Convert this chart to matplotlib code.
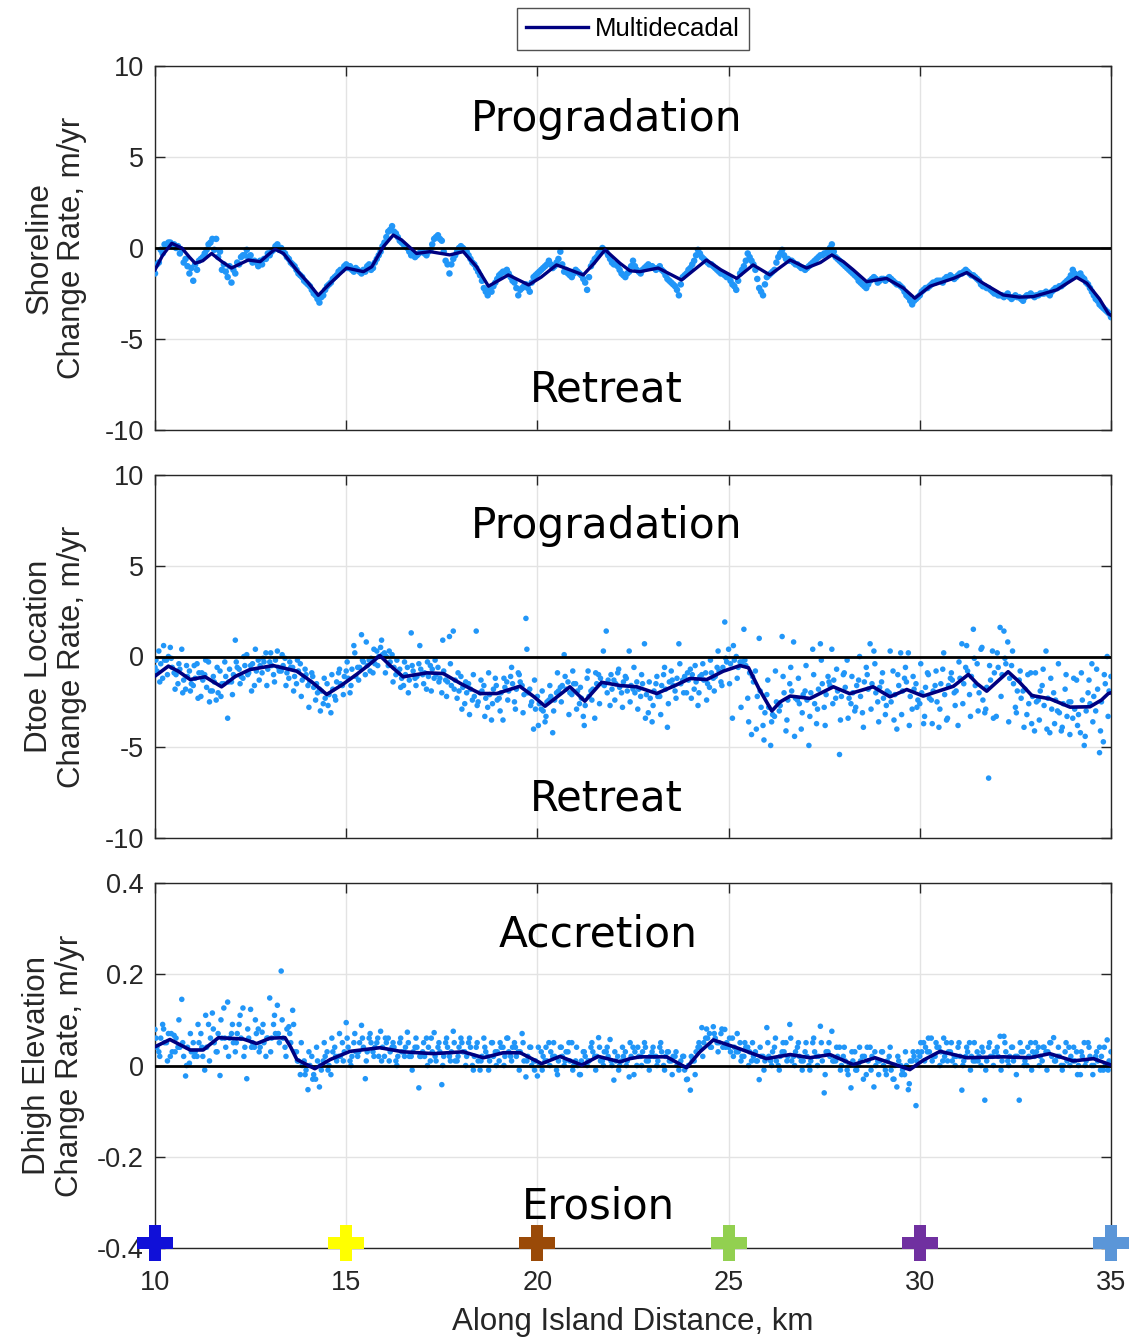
import numpy as np
import matplotlib
matplotlib.use("Agg")
import matplotlib.pyplot as plt
import matplotlib.transforms as mtransforms

# ---------------- data ----------------
# Smoothed multidecadal lines (knots)
shore_line_km = [10.0, 10.2, 10.44, 10.70, 10.9, 11.05, 11.25, 11.48, 11.75, 12.0, 12.44, 12.75, 13.0, 13.14, 13.36,
                 13.70, 14.0, 14.27, 14.58, 15.01, 15.45, 15.67, 15.97, 16.23, 16.45, 16.84, 17.19, 17.71, 18.06,
                 18.41, 18.72, 19.24, 19.77, 20.1, 20.50, 20.85, 21.20, 21.5, 21.77, 22.16, 22.42, 22.68, 23.16,
                 23.77, 24.1, 24.42, 24.8, 25.21, 25.64, 26.08, 26.61, 27.04, 27.4, 27.70, 28.0, 28.26, 28.61,
                 29.13, 29.57, 29.87, 30.27, 30.88, 31.23, 31.66, 32.18, 32.6, 32.97, 33.58, 34.10, 34.37, 34.7,
                 34.93, 35.0]
shore_line_val = [-1.2, -0.4, 0.26, 0.0, -0.5, -0.84, -0.7, -0.3, -0.75, -1.1, -0.66, -0.75, -0.3, -0.07, -0.3,
                  -1.2, -1.9, -2.6, -1.94, -1.1, -1.3, -1.03, 0.07, 0.71, 0.44, -0.3, -0.2, -0.38, -0.2,
                  -1.03, -2.1, -1.48, -2.03, -1.6, -0.93, -1.2, -1.48, -0.8, -0.1, -0.84, -1.25, -1.3, -1.1,
                  -1.76, -1.2, -0.66, -1.2, -1.67, -0.93, -1.48, -0.66, -1.1, -0.8, -0.38, -0.75, -1.2, -1.85,
                  -1.67, -2.2, -2.76, -2.1, -1.67, -1.35, -1.94, -2.58, -2.7, -2.67, -2.3, -1.61, -1.94, -2.8,
                  -3.6, -3.7]

dtoe_line_km = [10.0, 10.35, 10.6, 10.92, 11.31, 11.74, 12.1, 12.48, 13.09, 13.71, 14.1, 14.49, 14.9, 15.27,
                15.6, 15.88, 16.15, 16.49, 17.11, 17.54, 18.0, 18.50, 18.94, 19.54, 19.9, 20.20, 20.5, 20.85,
                21.24, 21.68, 22.16, 22.42, 22.60, 23.12, 23.6, 23.99, 24.43, 24.86, 25.30, 25.52, 25.8, 26.13,
                26.35, 26.61, 27.13, 27.74, 28.17, 28.78, 29.22, 29.66, 30.09, 30.88, 31.27, 31.5, 31.75, 32.31,
                32.6, 32.93, 33.40, 33.93, 34.45, 34.75, 34.93, 35.0]
dtoe_line_val = [-1.08, -0.53, -0.8, -1.27, -1.12, -1.67, -1.1, -0.72, -0.5, -0.81, -1.4, -2.09, -1.55, -0.99,
                 -0.45, 0.05, -0.5, -1.12, -0.9, -0.94, -1.5, -2.04, -2.04, -1.64, -2.2, -2.74, -2.25, -1.67,
                 -2.46, -1.42, -1.6, -1.64, -1.67, -2.04, -1.6, -1.21, -1.27, -0.81, -0.5, -0.62, -1.8, -3.0,
                 -2.5, -2.18, -2.31, -1.67, -2.05, -1.67, -2.22, -1.82, -2.18, -1.64, -0.99, -1.5, -1.91, -0.84,
                 -1.4, -2.15, -2.33, -2.79, -2.77, -2.4, -2.04, -2.0]

dhigh_line_km = [10.0, 10.39, 10.92, 11.26, 11.66, 12.31, 12.66, 13.01, 13.40, 13.55, 13.71, 14.18, 14.58, 15.10,
                 15.88, 16.49, 17.28, 18.06, 18.59, 19.11, 19.55, 20.11, 20.59, 21.16, 21.59, 22.16, 22.42,
                 22.68, 23.38, 23.90, 24.25, 24.60, 25.21, 25.99, 26.61, 27.13, 27.65, 28.26, 28.83, 29.74, 30.1,
                 30.53, 31.23, 32.18, 32.88, 33.40, 34.01, 34.54, 34.97]
dhigh_line_val = [0.041, 0.057, 0.034, 0.034, 0.061, 0.058, 0.048, 0.06, 0.061, 0.04, 0.013, -0.007, 0.013, 0.031,
                  0.039, 0.03, 0.026, 0.03, 0.017, 0.028, 0.028, 0.004, 0.02, 0.001, 0.02, 0.008, 0.015,
                  0.019, 0.019, -0.005, 0.03, 0.056, 0.039, 0.015, 0.024, 0.017, 0.024, 0.002, 0.017, -0.009, 0.012,
                  0.031, 0.017, 0.019, 0.017, 0.026, 0.01, 0.015, 0.002]

# Transect scatter: transects every 0.1 km from 10 to 35 km (set A),
# offset by 0.05 km (set B) and by 0.025 km (set C)
transect_start_km, transect_end_km, n_transects = 10.0, 35.0, 251

shore_pts = [
    -1.4, -0.8, -0.3, 0.1, 0.3, 0.2, 0.1, -0.1, -0.6, -1.4,
    -1.8, -1.2, -0.6, -0.3, 0.2, 0.5, 0.5, -0.2, -0.9, -1.6,
    -1.9, -1.4, -0.9, -0.4, -0.1, -0.4, -0.7, -1.0, -0.9, -0.6,
    -0.4, -0.1, 0.2, 0.0, -0.3, -0.6, -0.9, -1.2, -1.5, -1.8,
    -2.0, -2.3, -2.6, -3.0, -2.6, -2.1, -1.9, -1.6, -1.3, -1.2,
    -0.9, -1.0, -1.3, -1.2, -1.4, -1.3, -0.9, -1.1, -0.6, -0.2,
    0.3, 0.9, 1.2, 0.8, 0.4, 0.2, 0.0, -0.4, -0.5, -0.3,
    -0.2, -0.4, -0.1, 0.5, 0.7, 0.4, -0.7, -1.4, -0.6, -0.2,
    0.1, -0.1, -0.4, -0.8, -1.1, -1.5, -2.2, -2.6, -2.4, -1.9,
    -1.5, -1.3, -1.2, -1.6, -1.9, -2.6, -2.2, -2.0, -2.4, -1.6,
    -1.4, -1.2, -1.0, -0.7, -1.1, -0.8, -0.2, -1.3, -1.4, -1.6,
    -1.2, -1.4, -1.7, -2.3, -1.0, -0.6, -0.3, 0.0, -0.2, -0.6,
    -0.9, -1.0, -1.4, -1.6, -1.3, -0.7, -1.2, -1.4, -1.1, -0.9,
    -1.0, -1.2, -1.0, -1.3, -1.7, -1.9, -2.1, -2.6, -1.6, -1.4,
    -1.1, -0.7, -0.1, -0.5, -0.7, -0.9, -1.0, -1.2, -1.4, -1.5,
    -1.6, -2.0, -2.3, -1.4, -1.0, -0.3, -0.7, -1.2, -2.2, -2.6,
    -1.6, -1.4, -1.2, -0.5, -0.1, -0.6, -0.7, -0.8, -0.9, -1.1,
    -1.2, -1.0, -0.8, -0.6, -0.4, -0.3, -0.2, 0.2, -0.5, -0.7,
    -0.9, -1.1, -1.3, -1.5, -1.8, -2.0, -2.2, -1.8, -1.6, -1.9,
    -1.7, -1.8, -1.6, -1.8, -2.0, -2.1, -2.4, -2.7, -3.1, -2.8,
    -2.6, -2.3, -2.2, -2.0, -1.9, -1.8, -1.9, -1.6, -1.5, -1.7,
    -1.5, -1.4, -1.2, -1.4, -1.5, -1.7, -2.0, -2.1, -2.2, -2.4,
    -2.5, -2.6, -2.7, -2.5, -2.8, -2.6, -2.7, -2.9, -2.6, -2.5,
    -2.7, -2.6, -2.5, -2.4, -2.6, -2.3, -2.2, -2.1, -1.9, -1.7,
    -1.2, -1.5, -1.4, -1.7, -2.0, -2.4, -2.8, -3.1, -3.3, -3.5,
    -3.8]
shore_pts_b = [
    -0.9, -0.1, 0.2, 0.3, 0.1, 0.0, -0.3, -0.8, -1.0, -1.1,
    -0.9, -0.7, -0.5, -0.1, 0.3, -0.1, -0.5, -1.2, -1.3, -1.0,
    -1.2, -0.8, -0.5, -0.4, -0.6, -0.8, -0.8, -0.7, -0.6, -0.3,
    -0.2, 0.1, -0.1, -0.2, -0.5, -0.8, -1.0, -1.4, -1.6, -1.9,
    -2.1, -2.5, -2.8, -2.7, -2.3, -2.0, -1.7, -1.5, -1.2, -1.0,
    -1.1, -1.2, -1.1, -1.3, -1.2, -1.0, -1.2, -0.8, -0.4, 0.1,
    0.6, 1.0, 0.9, 0.6, 0.3, 0.1, -0.2, -0.3, -0.4, -0.2,
    -0.3, -0.2, 0.2, 0.6, 0.5, -0.2, -0.9, -0.9, -0.4, 0.0,
    0.0, -0.2, -0.6, -0.9, -1.3, -1.8, -2.4, -2.3, -2.1, -1.7,
    -1.4, -1.3, -1.4, -1.8, -2.2, -2.3, -2.1, -2.2, -1.9, -1.5,
    -1.3, -1.1, -0.9, -0.9, -1.0, -0.6, -0.9, -1.2, -1.5, -1.4,
    -1.3, -1.5, -1.9, -1.6, -0.8, -0.5, -0.2, -0.1, -0.4, -0.8,
    -0.9, -1.2, -1.5, -1.4, -1.0, -1.0, -1.3, -1.2, -1.0, -1.0,
    -1.1, -1.1, -1.2, -1.5, -1.8, -2.0, -2.3, -2.0, -1.5, -1.2,
    -0.9, -0.4, -0.3, -0.6, -0.8, -0.9, -1.1, -1.3, -1.4, -1.6,
    -1.8, -2.1, -1.8, -1.2, -0.7, -0.5, -0.9, -1.7, -2.4, -2.0,
    -1.5, -1.3, -0.8, -0.3, -0.4, -0.6, -0.7, -0.9, -1.0, -1.1,
    -1.1, -0.9, -0.7, -0.5, -0.4, -0.3, 0.0, -0.2, -0.6, -0.8,
    -1.0, -1.2, -1.4, -1.6, -1.9, -2.1, -2.0, -1.7, -1.7, -1.8,
    -1.7, -1.7, -1.7, -1.9, -2.0, -2.2, -2.6, -2.9, -2.9, -2.7,
    -2.4, -2.2, -2.1, -1.9, -1.8, -1.8, -1.7, -1.6, -1.6, -1.6,
    -1.4, -1.3, -1.3, -1.5, -1.6, -1.8, -2.1, -2.2, -2.3, -2.5,
    -2.6, -2.6, -2.6, -2.7, -2.7, -2.7, -2.8, -2.7, -2.6, -2.6,
    -2.6, -2.5, -2.5, -2.5, -2.4, -2.2, -2.1, -2.0, -1.8, -1.5,
    -1.4, -1.5, -1.6, -1.9, -2.2, -2.6, -2.9, -3.2, -3.4, -3.6]

dtoe_pts_a = [
    -0.6, 0.3, -1.2, -0.2, 0.5, -0.9, -1.5, 0.4, -1.8, -0.8,
    -1.6, -0.4, -2.2, -1.0, -0.3, -1.9, -2.4, -0.8, -1.5, -3.4,
    -1.4, 0.9, -0.7, -1.2, 0.1, -0.5, -1.6, -0.2, -0.9, 0.2,
    -0.3, -1.0, 0.3, -0.8, -0.1, -1.2, -0.6, -1.5, -0.4, -1.1,
    -1.6, -0.9, -2.4, -1.8, -2.6, -1.5, -3.1, -2.2, -0.9, -1.6,
    -0.8, -2.0, 0.6, -0.6, 1.2, -1.0, -0.2, -0.9, 0.3, 0.5,
    0.2, -0.5, 0.1, -1.0, -0.7, -1.6, -0.6, 1.3, -1.2, -0.4,
    -1.0, -1.8, -0.5, -1.2, -0.6, -2.0, -1.3, 1.1, 1.4, -2.3,
    -1.1, -2.6, -1.5, -2.4, 1.4, -2.0, -1.6, -2.8, -3.5, -1.2,
    -2.3, -3.5, -1.4, -1.1, -2.5, -0.9, -1.6, 2.1, -1.8, -4.0,
    -2.2, -2.9, -3.6, -2.4, -4.2, -2.0, -1.7, 0.1, -1.4, -2.1,
    -1.5, -2.6, -3.3, -1.2, -1.9, -3.4, -1.0, -1.5, 1.4, -2.7,
    -1.3, -0.9, -2.0, -1.1, 0.3, -1.8, -1.4, -2.2, 0.7, -3.1,
    -3.6, -1.5, -2.2, -1.0, -3.9, -0.8, -1.9, 0.7, -1.3, -2.0,
    -0.7, -1.8, -2.7, -1.0, -0.9, -1.7, -1.2, -0.6, -1.4, 1.9,
    0.4, -3.4, 0.0, -0.3, 1.5, -2.3, -4.3, -0.8, 1.0, -3.8,
    -2.1, -4.9, -3.3, -2.6, 1.1, -4.1, -1.5, 0.8, -2.4, -4.0,
    -1.9, -4.9, 0.4, -3.7, 0.7, -2.8, -1.1, 0.4, -2.3, -5.4,
    -1.0, -0.2, -2.6, -3.0, -1.3, -3.1, -0.6, 0.7, 0.3, -2.5,
    -1.4, -3.2, -2.0, -0.8, -4.0, 0.2, -1.2, 0.2, -2.9, -1.5,
    -2.6, -3.7, -0.9, -2.4, -1.6, -3.9, -0.7, -3.5, -1.2, -2.0,
    -3.8, 0.7, -0.6, -2.1, 1.5, -0.4, 0.4, -3.1, -6.7, 0.3,
    -3.3, 1.6, 1.4, 0.8, -0.5, -2.8, -1.3, -1.9, -3.2, -0.9,
    -4.1, -2.4, -1.6, 0.3, -4.2, -2.0, -3.0, -4.1, -1.8, -2.5,
    -3.4, -1.3, -4.2, -4.9, -2.0, -0.4, -3.0, -5.3, -4.7, 0.0,
    -1.1]
dtoe_pts_b = [
    -0.8, -0.4, -0.2, 0.0, -0.6, -1.0, -0.7, -1.3, -1.1, -1.5,
    -1.2, -0.9, -1.3, -1.7, -1.9, -1.4, -2.0, -1.5, -1.1, -0.7,
    -1.0, -0.6, -1.1, -0.5, -0.9, -0.4, -0.8, -0.5, -0.3, -0.7,
    -0.5, -0.2, -0.8, -0.5, -0.9, -0.6, -1.1, -0.8, -1.3, -1.0,
    -1.4, -1.7, -2.0, -1.9, -2.3, -2.1, -1.8, -1.4, -1.5, -1.1,
    -1.2, -0.7, -1.1, -0.6, -0.3, -0.5, -0.1, -0.4, 0.0, 0.1,
    0.0, -0.3, -0.6, -0.9, -1.2, -1.0, -1.3, -0.8, -1.1, -0.7,
    -0.9, -1.1, -0.7, -1.0, -1.2, -0.8, -1.4, -1.6, -1.3, -1.9,
    -1.7, -2.0, -1.8, -2.2, -2.5, -1.9, -2.3, -2.1, -1.8, -2.4,
    -2.0, -1.7, -1.9, -1.5, -1.8, -1.4, -2.1, -2.0, -2.5, -2.9,
    -2.6, -3.0, -2.5, -2.2, -2.4, -1.9, -1.6, -1.8, -2.0, -1.5,
    -1.9, -2.3, -2.7, -2.2, -1.8, -1.5, -1.2, -1.6, -1.3, -1.8,
    -1.5, -1.7, -1.4, -1.9, -1.6, -2.0, -1.8, -1.5, -2.1, -2.3,
    -1.9, -2.2, -1.6, -1.8, -1.4, -1.6, -1.2, -1.5, -1.1, -1.3,
    -1.0, -1.4, -1.1, -1.3, -1.5, -0.9, -1.1, -0.8, -0.6, -0.3,
    -0.4, -0.2, -0.6, -0.3, -0.5, -0.9, -1.4, -2.2, -2.8, -3.1,
    -2.8, -3.2, -2.5, -2.7, -2.0, -2.4, -1.9, -2.3, -2.6, -2.1,
    -2.4, -2.0, -2.6, -1.8, -1.5, -2.1, -1.6, -1.3, -1.9, -2.2,
    -1.7, -2.3, -2.0, -1.6, -2.2, -1.4, -1.8, -1.5, -2.0, -1.7,
    -2.3, -1.9, -2.5, -2.1, -1.6, -1.9, -1.4, -2.2, -1.8, -2.4,
    -2.0, -1.7, -2.3, -1.9, -2.5, -1.5, -2.1, -1.6, -1.3, -1.9,
    -1.2, -1.5, -0.8, -1.1, -1.6, -2.0, -2.4, -1.7, -1.3, -0.9,
    -0.6, -1.0, -0.4, -1.2, -1.5, -1.9, -2.3, -1.8, -2.6, -2.2,
    -2.5, -1.9, -2.7, -2.3, -2.9, -2.4, -3.1, -2.6, -3.3, -2.5,
    -2.9, -3.2, -2.4, -3.0, -2.6, -2.2, -1.8, -2.5, -1.5, -1.9]
dtoe_pts_c = [
    -0.2, -1.4, 0.6, -1.0, -0.1, -1.8, -0.4, -2.0, -0.5, -1.9,
    -0.5, -2.3, -0.9, -0.2, -2.5, -1.1, -0.6, -2.2, -0.3, -1.4,
    -2.1, -0.3, -1.5, 0.0, -1.0, -1.9, 0.4, -1.3, -0.1, -1.6,
    0.2, -1.4, -0.6, 0.1, -1.6, -0.3, -1.9, -0.2, -2.2, -0.7,
    -2.8, -1.1, -1.5, -3.0, -1.2, -2.7, -1.0, -2.4, -0.7, -2.1,
    -0.3, -1.6, 0.2, -1.3, -0.2, 0.8, -0.8, 0.4, -0.5, 0.9,
    -0.9, 0.3, -1.4, -0.2, -1.7, -0.3, -2.0, -0.5, -1.6, 0.6,
    -1.5, -0.3, -1.9, -0.2, -1.4, 0.9, -2.2, -0.4, -1.8, -0.9,
    -2.9, -1.4, -3.2, -1.0, -2.7, -1.3, -3.3, -0.9, -2.6, -1.6,
    -3.0, -1.2, -2.4, -0.6, -2.9, -1.0, -3.1, 0.4, -2.7, -1.3,
    -3.8, -1.9, -3.3, -1.6, -3.0, -0.9, -2.5, -1.1, -3.2, -0.8,
    -2.9, -1.7, -3.8, -0.8, -2.4, -0.9, -2.6, 0.3, -2.0, -1.0,
    -2.4, -0.7, -2.8, -1.2, -2.5, -0.6, -2.9, -1.0, -3.4, -1.4,
    -2.7, -1.1, -3.2, -0.6, -2.6, -1.3, -2.3, -0.4, -2.0, -0.9,
    -2.3, -0.5, -2.0, -0.4, -2.4, -0.2, -1.9, 0.3, -1.6, -0.1,
    -1.5, 0.6, -1.2, -2.8, -0.2, -3.6, -1.1, -4.0, -1.9, -4.6,
    -1.3, -3.6, -0.8, -3.0, -1.1, -3.5, -0.6, -4.4, -1.2, -3.1,
    -0.5, -3.3, -1.0, -2.9, -0.2, -3.8, -1.4, -2.6, -0.7, -3.5,
    -0.9, -3.4, -1.1, -2.8, 0.0, -3.9, -1.0, -2.9, -0.4, -3.6,
    -0.9, -2.7, 0.3, -3.5, -1.0, -3.2, -0.6, -3.8, -1.1, -2.8,
    -0.4, -3.3, -1.0, -3.7, -0.8, -2.9, 0.2, -3.4, -0.9, -2.7,
    -0.3, -2.6, 0.6, -3.3, -0.1, -3.0, 0.5, -2.9, -0.5, -3.4,
    0.2, -2.2, -0.1, -3.6, 0.3, -3.1, -0.8, -3.9, -1.0, -3.7,
    -0.9, -3.5, -0.7, -4.0, -1.2, -3.7, -0.4, -3.9, -1.0, -4.3,
    -1.2, -3.8, -0.9, -4.4, -1.3, -3.6, -0.7, -4.1, -1.0, -3.3]

dhigh_pts_a = [
    0.079, 0.03, 0.09, 0.05, 0.02, 0.066, 0.04, 0.145, -0.023, 0.005,
    0.05, 0.02, 0.07, -0.01, 0.09, 0.115, 0.03, -0.022, 0.126, 0.139,
    0.07, 0.03, 0.09, 0.126, -0.029, 0.123, 0.04, 0.08, 0.073, 0.02,
    0.148, 0.09, 0.132, 0.207, 0.04, 0.085, 0.121, 0.03, -0.02, 0.01,
    -0.053, 0.02, -0.03, -0.047, 0.01, 0.03, -0.02, 0.04, 0.02, 0.05,
    0.094, 0.01, 0.05, 0.02, 0.088, -0.029, 0.06, 0.03, 0.05, 0.075,
    0.02, 0.06, 0.04, 0.01, 0.05, 0.03, 0.073, 0.02, 0.04, -0.049,
    0.03, 0.06, 0.01, 0.072, 0.04, -0.042, 0.05, 0.02, 0.075, 0.01,
    0.06, 0.03, 0.05, 0.0, 0.04, -0.01, 0.06, 0.02, 0.05, 0.03,
    0.01, 0.04, 0.06, 0.02, 0.05, 0.03, 0.07, -0.025, 0.04, 0.01,
    -0.023, 0.03, 0.01, 0.05, 0.02, -0.01, 0.04, 0.0, 0.03, 0.05,
    0.01, -0.02, 0.03, 0.0, 0.04, 0.02, 0.061, 0.01, 0.03, 0.057,
    -0.032, 0.02, 0.01, 0.03, -0.025, 0.04, 0.0, 0.02, 0.05, 0.01,
    0.03, 0.02, 0.04, 0.0, 0.03, 0.01, 0.02, -0.01, 0.02, -0.031,
    -0.054, 0.01, 0.04, 0.083, 0.06, 0.07, 0.085, 0.05, 0.07, 0.079,
    0.04, 0.06, 0.03, 0.05, 0.02, 0.04, 0.01, 0.03, -0.031, 0.02,
    0.083, 0.01, 0.04, 0.0, 0.03, 0.05, 0.09, 0.02, 0.04, 0.01,
    0.03, 0.0, 0.05, 0.02, 0.086, -0.06, 0.03, 0.075, 0.01, 0.04,
    0.02, -0.01, -0.049, 0.03, 0.0, 0.02, -0.02, 0.04, -0.047, 0.01,
    0.03, -0.01, 0.02, -0.03, -0.047, 0.0, -0.02, -0.053, 0.01, -0.088,
    0.02, 0.05, 0.03, 0.06, 0.02, 0.04, 0.01, 0.05, 0.03, 0.02,
    0.04, -0.054, 0.02, 0.05, 0.01, 0.03, 0.0, -0.076, 0.04, 0.02,
    0.03, 0.064, 0.064, 0.01, 0.04, 0.02, -0.076, 0.03, 0.0, 0.05,
    0.02, 0.04, 0.01, 0.03, 0.05, 0.061, 0.02, 0.0, 0.03, 0.04,
    0.01, 0.03, -0.02, 0.05, 0.05, 0.0, 0.02, 0.04, -0.01, 0.056,
    0.03]
dhigh_pts_b = [
    0.04, 0.06, 0.05, 0.07, 0.03, 0.06, 0.04, 0.02, 0.04, 0.03,
    0.03, 0.05, 0.02, 0.04, 0.06, 0.05, 0.07, 0.06, 0.04, 0.06,
    0.05, 0.07, 0.06, 0.04, 0.06, 0.05, 0.07, 0.04, 0.05, 0.06,
    0.06, 0.07, 0.05, 0.06, 0.08, 0.05, 0.03, 0.01, 0.0, -0.01,
    0.0, -0.02, 0.01, -0.01, 0.02, 0.0, 0.03, 0.01, 0.02, 0.03,
    0.04, 0.02, 0.03, 0.05, 0.04, 0.03, 0.05, 0.04, 0.02, 0.04,
    0.05, 0.03, 0.04, 0.02, 0.03, 0.04, 0.02, 0.03, 0.04, 0.02,
    0.02, 0.04, 0.03, 0.01, 0.03, 0.02, 0.04, 0.03, 0.01, 0.04,
    0.03, 0.02, 0.04, 0.02, 0.01, 0.02, 0.03, 0.01, 0.02, 0.03,
    0.04, 0.02, 0.03, 0.04, 0.02, 0.03, 0.01, 0.02, 0.0, 0.01,
    0.0, 0.02, 0.01, 0.03, 0.02, 0.01, 0.02, 0.03, 0.01, 0.0,
    0.0, 0.01, 0.02, 0.01, 0.03, 0.02, 0.01, 0.03, 0.02, 0.0,
    0.01, 0.0, 0.02, 0.01, 0.02, 0.03, 0.02, 0.03, 0.01, 0.02,
    0.02, 0.01, 0.03, 0.02, 0.01, 0.02, 0.0, 0.01, -0.01, 0.0,
    0.01, 0.03, 0.04, 0.05, 0.06, 0.04, 0.06, 0.05, 0.04, 0.05,
    0.03, 0.04, 0.03, 0.02, 0.04, 0.03, 0.02, 0.01, 0.02, 0.01,
    0.02, 0.03, 0.01, 0.02, 0.03, 0.02, 0.01, 0.03, 0.02, 0.01,
    0.02, 0.01, 0.03, 0.02, 0.01, 0.03, 0.02, 0.01, 0.02, 0.0,
    0.01, 0.0, 0.01, -0.01, 0.01, 0.02, 0.01, 0.02, 0.0, 0.01,
    0.0, 0.01, -0.01, 0.0, 0.01, -0.01, 0.0, 0.01, 0.02, 0.03,
    0.03, 0.04, 0.03, 0.02, 0.04, 0.03, 0.02, 0.03, 0.01, 0.02,
    0.02, 0.01, 0.03, 0.02, 0.01, 0.02, 0.03, 0.01, 0.02, 0.03,
    0.02, 0.01, 0.03, 0.02, 0.01, 0.02, 0.03, 0.01, 0.02, 0.03,
    0.03, 0.02, 0.04, 0.03, 0.02, 0.01, 0.02, 0.0, 0.01, 0.02,
    0.01, 0.0, 0.02, 0.01, 0.02, 0.0, 0.01, 0.02, 0.0, 0.01]
dhigh_pts_c = [
    0.06, 0.02, 0.08, 0.01, 0.07, 0.03, 0.10, 0.05, 0.00, 0.07,
    0.02, 0.09, 0.04, 0.11, 0.01, 0.08, 0.03, 0.10, 0.06, 0.02,
    0.09, 0.05, 0.11, 0.02, 0.08, 0.04, 0.10, 0.03, 0.09, 0.06,
    0.03, 0.11, 0.07, 0.10, 0.02, 0.07, 0.09, 0.01, 0.05, -0.02,
    0.03, -0.03, 0.04, 0.00, 0.05, -0.01, 0.06, 0.02, 0.07, 0.01,
    0.06, 0.00, 0.07, 0.03, 0.06, 0.01, 0.07, 0.02, 0.06, 0.01,
    0.06, 0.01, 0.05, 0.00, 0.06, 0.02, 0.05, -0.01, 0.06, 0.02,
    0.05, 0.00, 0.06, 0.02, 0.05, 0.00, 0.06, 0.01, 0.05, 0.02,
    0.05, 0.00, 0.06, -0.01, 0.05, 0.01, 0.04, -0.01, 0.05, 0.00,
    0.05, 0.00, 0.06, 0.01, 0.04, -0.01, 0.05, 0.01, 0.04, -0.01,
    0.04, -0.01, 0.04, 0.00, 0.05, -0.02, 0.04, 0.01, 0.05, -0.01,
    0.04, -0.02, 0.03, 0.01, 0.05, -0.01, 0.04, 0.00, 0.04, 0.01,
    0.03, -0.01, 0.04, 0.00, 0.05, -0.02, 0.04, 0.00, 0.04, -0.01,
    0.04, 0.00, 0.05, -0.01, 0.03, -0.02, 0.03, 0.00, 0.02, -0.03,
    0.02, -0.02, 0.05, 0.02, 0.08, 0.04, 0.07, 0.03, 0.08, 0.04,
    0.06, 0.02, 0.07, 0.01, 0.05, 0.00, 0.05, 0.01, 0.04, -0.01,
    0.05, 0.00, 0.06, -0.01, 0.05, 0.01, 0.06, 0.00, 0.05, -0.01,
    0.05, -0.01, 0.06, 0.00, 0.05, -0.02, 0.05, 0.01, 0.04, -0.01,
    0.04, -0.02, 0.03, -0.01, 0.04, -0.03, 0.04, -0.01, 0.03, -0.02,
    0.03, -0.02, 0.04, -0.03, 0.02, -0.02, 0.03, -0.04, 0.03, 0.01,
    0.05, 0.01, 0.06, 0.01, 0.05, 0.00, 0.06, 0.01, 0.05, 0.00,
    0.05, 0.00, 0.04, -0.01, 0.05, 0.01, 0.04, -0.01, 0.05, 0.00,
    0.04, -0.01, 0.05, 0.00, 0.04, -0.02, 0.05, 0.00, 0.04, -0.01,
    0.05, 0.00, 0.04, -0.01, 0.05, 0.01, 0.04, -0.01, 0.05, 0.00,
    0.04, -0.02, 0.03, 0.00, 0.04, -0.02, 0.03, -0.01, 0.04, -0.01]

# Site markers along the bottom axis
site_km = [10, 15, 20, 25, 30, 35]
site_colors = ["#1010D8", "#FFFF00", "#9A4A08", "#92D050", "#7030A0", "#5B96D8"]

xticks = [10, 15, 20, 25, 30, 35]
ylabels = ["Shoreline\nChange Rate, m/yr", "Dtoe Location\nChange Rate, m/yr", "Dhigh Elevation\nChange Rate, m/yr"]
top_texts = ["Progradation", "Progradation", "Accretion"]
bottom_texts = ["Retreat", "Retreat", "Erosion"]

# ---------------- figure ----------------
W, H = 1130, 1342
fig = plt.figure(figsize=(W / 100, H / 100), dpi=100)

sans = ["Liberation Sans", "DejaVu Sans"]
txt_col = "#262626"
dot_col = "#2196F8"
line_col = "#000080"

left = 155 / W
width = (1111 - 155) / W
panels = [(66, 430), (475, 838), (883, 1248)]
axes = []
for top, bot in panels:
    ax = fig.add_axes([left, 1 - bot / H, width, (bot - top) / H])
    axes.append(ax)

xa = np.linspace(transect_start_km, transect_end_km, n_transects)
xb = xa[:-1] + 0.05
xc = xa[:-1] + 0.025

# Panel 1
ax = axes[0]
ax.scatter(xa, shore_pts, s=22, color=dot_col, edgecolors="none", zorder=3)
ax.scatter(xb, shore_pts_b, s=22, color=dot_col, edgecolors="none", zorder=3)
ln, = ax.plot(shore_line_km, shore_line_val, color=line_col, lw=2.4, zorder=4, label="Multidecadal",
              solid_joinstyle="round")
ax.set_ylim(-10, 10)
ax.set_yticks([-10, -5, 0, 5, 10])
ax.set_yticklabels(["-10", "-5", "0", "5", "10"])

# Panel 2
ax = axes[1]
for xs, ys in ((xa, dtoe_pts_a), (xb, dtoe_pts_b), (xc, dtoe_pts_c)):
    ax.scatter(xs, ys, s=16, color=dot_col, edgecolors="none", zorder=3)
ax.plot(dtoe_line_km, dtoe_line_val, color=line_col, lw=2.6, zorder=4, solid_joinstyle="round")
ax.set_ylim(-10, 10)
ax.set_yticks([-10, -5, 0, 5, 10])
ax.set_yticklabels(["-10", "-5", "0", "5", "10"])

# Panel 3
ax = axes[2]
for xs, ys in ((xa, dhigh_pts_a), (xb, dhigh_pts_b), (xc, dhigh_pts_c)):
    ax.scatter(xs, ys, s=16, color=dot_col, edgecolors="none", zorder=3)
ax.plot(dhigh_line_km, dhigh_line_val, color=line_col, lw=2.6, zorder=4, solid_joinstyle="round")
ax.set_ylim(-0.4, 0.4)
ax.set_yticks([-0.4, -0.2, 0, 0.2, 0.4])
ax.set_yticklabels(["-0.4", "-0.2", "0", "0.2", "0.4"])
marker_tr = mtransforms.offset_copy(ax.transData, fig=fig, x=0, y=5, units="dots")
for k, c in zip(site_km, site_colors):
    ax.plot([k], [-0.4], marker="P", markersize=26, color=c, markeredgewidth=0,
            clip_on=False, zorder=10, transform=marker_tr)
ax.set_xlabel("Along Island Distance, km", fontsize=22.5, family=sans, color=txt_col, labelpad=8)

text_y = [(7.1, -7.8), (7.2, -7.8), (0.287, -0.309)]
label_x = [-0.071, -0.071, -0.073]
for i, ax in enumerate(axes):
    ax.set_xlim(10, 35)
    ax.set_xticks(xticks)
    ax.axhline(0, color="black", lw=2.0, zorder=3.5)
    ax.grid(True, color="#E3E3E3", lw=1.0)
    ax.set_axisbelow(True)
    ax.tick_params(direction="in", top=True, right=True, length=7, width=1,
                   labelsize=19.5, colors="#262626", pad=8)
    ax.tick_params(axis="x", pad=16)
    for lab in ax.get_xticklabels() + ax.get_yticklabels():
        lab.set_family(sans)
    if i < 2:
        ax.set_xticklabels([])
    for sp in ax.spines.values():
        sp.set_color("#262626")
        sp.set_linewidth(1.0)
    ax.set_ylabel(ylabels[i], fontsize=22.5, family=sans, color=txt_col, linespacing=1.12)
    ax.yaxis.set_label_coords(label_x[i], 0.5)
    ax.text(21.8 if i < 2 else 21.6, text_y[i][0], top_texts[i], ha="center", va="center",
            fontsize=30.5, family="DejaVu Sans", color="black", zorder=6)
    ax.text(21.8 if i < 2 else 21.6, text_y[i][1], bottom_texts[i], ha="center", va="center",
            fontsize=30, family="DejaVu Sans", color="black", zorder=6)

leg = axes[0].legend(handles=[ln], loc="lower center", bbox_to_anchor=(0.5, 1.044),
                     borderaxespad=0.0, frameon=True, fancybox=False, edgecolor="#262626",
                     handlelength=2.4, borderpad=0.35, handletextpad=0.3,
                     prop={"family": sans, "size": 18.5})
leg.get_frame().set_linewidth(1.0)

fig.savefig("out.png", dpi=100)
